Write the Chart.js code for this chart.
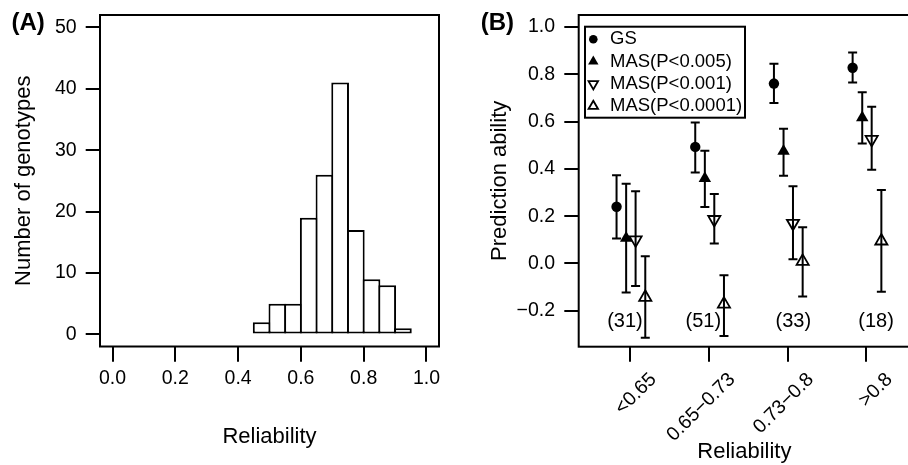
<!DOCTYPE html>
<html><head><meta charset="utf-8">
<script src="https://cdn.jsdelivr.net/npm/chart.js@4.4.1/dist/chart.umd.min.js"></script>
<style>
html,body{margin:0;padding:0;background:#fff;}
#wrap{position:relative;width:908px;height:465px;overflow:hidden;background:#fff;}
#boxA{position:absolute;left:0;top:0;width:450px;height:465px;}
#boxB{position:absolute;left:450px;top:0;width:458px;height:465px;overflow:hidden;}
canvas{display:block;}
</style></head><body>
<div id="wrap">
<div id="boxA"><canvas id="cA" width="450" height="465"></canvas></div>
<div id="boxB"><canvas id="cB" width="470" height="465"></canvas></div>
</div>
<script>
// ---------- Panel A: histogram ----------
const binCentres = [0.475, 0.525, 0.575, 0.625, 0.675, 0.725, 0.775, 0.825, 0.875, 0.925];
const genotypeCounts = [2, 5, 5, 19, 26, 41, 17, 9, 8, 1];
const histXTicks = [0, 0.2, 0.4, 0.6, 0.8, 1.0];
const histXTickLabels = ["0.0", "0.2", "0.4", "0.6", "0.8", "1.0"];
const histYTicks = [0, 10, 20, 30, 40, 50];
const histYTickLabels = ["0", "10", "20", "30", "40", "50"];

// ---------- Panel B: prediction ability ----------
const reliabilityClasses = ["<0.65", "0.65\u22120.73", "0.73\u22120.8", ">0.8"];
const classSizes = ["(31)", "(51)", "(33)", "(18)"];
const seriesNames = ["GS", "MAS(P<0.005)", "MAS(P<0.001)", "MAS(P<0.0001)"];
const gsMean      = [0.240, 0.493, 0.761, 0.828];
const gsLow       = [0.106, 0.385, 0.679, 0.766];
const gsHigh      = [0.373, 0.596, 0.845, 0.892];
const mas005Mean  = [0.107, 0.360, 0.475, 0.617];
const mas005Low   = [-0.123, 0.239, 0.371, 0.508];
const mas005High  = [0.337, 0.477, 0.570, 0.724];
const mas001Mean  = [0.100, 0.186, 0.170, 0.525];
const mas001Low   = [-0.095, 0.085, 0.018, 0.396];
const mas001High  = [0.305, 0.294, 0.327, 0.663];
const mas0001Mean = [-0.143, -0.172, 0.009, 0.095];
const mas0001Low  = [-0.314, -0.307, -0.140, -0.120];
const mas0001High = [0.031, -0.050, 0.153, 0.311];
const predYTicks = [-0.2, 0, 0.2, 0.4, 0.6, 0.8, 1.0];
const predYTickLabels = ["\u22120.2", "0.0", "0.2", "0.4", "0.6", "0.8", "1.0"];
const classSizeLevel = -0.245;

const seriesMeans = [gsMean, mas005Mean, mas001Mean, mas0001Mean];
const seriesLow = [gsLow, mas005Low, mas001Low, mas0001Low];
const seriesHigh = [gsHigh, mas005High, mas001High, mas0001High];

// ---------- layout / style constants ----------
const FONT = '"Liberation Sans", Arial, Helvetica, sans-serif';
Chart.defaults.font.family = FONT;
Chart.defaults.color = '#000';
const TICK_FONT = 19.5;
const TITLE_FONT = 22;
const seriesOffset = [-0.175, -0.053, 0.067, 0.19];
const countLabelOffset = [-0.068, -0.072, 0.071, 0.123];
const seriesStyle = [
  {pointStyle: 'circle',   rotation: 0,   fill: '#000',          border: 0,   radius: 5.2, legendRadius: 4.3},
  {pointStyle: 'triangle', rotation: 0,   fill: '#000',          border: 0,   radius: 7.2, legendRadius: 6},
  {pointStyle: 'triangle', rotation: 180, fill: 'rgba(0,0,0,0)', border: 1.8, radius: 7,   legendRadius: 5.5},
  {pointStyle: 'triangle', rotation: 0,   fill: 'rgba(0,0,0,0)', border: 1.8, radius: 7,   legendRadius: 5.5}
];

function fixWidth(w) {
  return s => { s.width = w; s.paddingLeft = 0; s.paddingRight = 0; s.paddingTop = 0; s.paddingBottom = 0; };
}
function fixHeight(h) {
  return s => { s.height = h; s.paddingLeft = 0; s.paddingRight = 0; s.paddingTop = 0; s.paddingBottom = 0; };
}
function tickGrid(len) {
  return {display: true, drawOnChartArea: false, drawTicks: true, tickLength: len, tickWidth: 2,
          tickColor: '#000', color: '#000', lineWidth: 2, offset: false};
}

const framePlugin = {
  id: 'frame',
  afterDatasetsDraw(chart) {
    const {ctx, chartArea: a} = chart;
    ctx.save();
    ctx.strokeStyle = '#000';
    ctx.lineWidth = 2;
    ctx.strokeRect(a.left, a.top, a.right - a.left, a.bottom - a.top);
    ctx.restore();
  }
};
function panelLabel(text, x, y) {
  return {
    id: 'panelLabel',
    afterDraw(chart) {
      const ctx = chart.ctx;
      ctx.save();
      ctx.fillStyle = '#000';
      ctx.font = 'bold 24px ' + FONT;
      ctx.textAlign = 'left';
      ctx.textBaseline = 'alphabetic';
      ctx.fillText(text, x, y);
      ctx.restore();
    }
  };
}

// ---------- Chart A ----------
new Chart(document.getElementById('cA'), {
  type: 'bar',
  data: {
    datasets: [{
      data: binCentres.map((x, i) => ({x: x, y: genotypeCounts[i]})),
      backgroundColor: '#fff',
      borderColor: '#000',
      borderWidth: 2,
      borderSkipped: false,
      barPercentage: 1.1275,
      categoryPercentage: 1,
      inflateAmount: 0
    }]
  },
  options: {
    responsive: false, animation: false, events: [], devicePixelRatio: 1,
    layout: {padding: {top: 15, right: 11, left: 0, bottom: 0}},
    plugins: {legend: {display: false}, tooltip: {enabled: false}},
    scales: {
      x: {
        type: 'linear', min: -0.04, max: 1.04, offset: false, bounds: 'data',
        afterBuildTicks: s => { s.ticks = histXTicks.map(v => ({value: v})); },
        afterFit: fixHeight(118.5),
        grid: tickGrid(15.3),
        border: {display: false},
        ticks: {callback: (v, i) => histXTickLabels[i], font: {size: TICK_FONT}, padding: 5.4,
                minRotation: 0, maxRotation: 0, autoSkip: false, color: '#000'},
        title: {display: true, text: 'Reliability', font: {size: TITLE_FONT}, padding: {top: 0, bottom: 14.5}, color: '#000'}
      },
      y: {
        type: 'linear', min: -1.96, max: 52, bounds: 'data',
        afterBuildTicks: s => { s.ticks = histYTicks.map(v => ({value: v})); },
        afterFit: fixWidth(100),
        grid: tickGrid(14.3),
        border: {display: false},
        ticks: {callback: (v, i) => histYTickLabels[i], font: {size: TICK_FONT}, padding: 9, autoSkip: false, color: '#000'},
        title: {display: true, text: 'Number of genotypes', font: {size: TITLE_FONT}, padding: {top: 10.5, bottom: 0}, color: '#000'}
      }
    }
  },
  plugins: [framePlugin, panelLabel('(A)', 11.5, 30)]
});

// ---------- Chart B ----------
const errorBarPlugin = {
  id: 'errorBars',
  beforeDatasetsDraw(chart) {
    const {ctx, scales: {x, y}} = chart;
    ctx.save();
    ctx.strokeStyle = '#000';
    ctx.lineWidth = 2;
    chart.data.datasets.forEach((ds, d) => {
      ds.data.forEach((p, i) => {
        const px = x.getPixelForValue(p.x);
        const y1 = y.getPixelForValue(seriesLow[d][i]);
        const y2 = y.getPixelForValue(seriesHigh[d][i]);
        ctx.beginPath();
        ctx.moveTo(px, y1); ctx.lineTo(px, y2);
        ctx.moveTo(px - 4.5, y1); ctx.lineTo(px + 4.5, y1);
        ctx.moveTo(px - 4.5, y2); ctx.lineTo(px + 4.5, y2);
        ctx.stroke();
      });
    });
    ctx.restore();
  }
};
const countLabelPlugin = {
  id: 'countLabels',
  afterDatasetsDraw(chart) {
    const {ctx, scales: {x, y}} = chart;
    ctx.save();
    ctx.fillStyle = '#000';
    ctx.font = '20px ' + FONT;
    ctx.textAlign = 'center';
    ctx.textBaseline = 'middle';
    classSizes.forEach((t, i) => {
      ctx.fillText(t, x.getPixelForValue(i + 1 + countLabelOffset[i]), y.getPixelForValue(classSizeLevel));
    });
    ctx.restore();
  }
};
const legendPlugin = {
  id: 'boxLegend',
  afterDraw(chart) {
    const ctx = chart.ctx;
    const left = 135, top = 26.7, w = 160, h = 91, rowH = 22.3;
    ctx.save();
    ctx.fillStyle = '#fff';
    ctx.fillRect(left, top, w, h);
    ctx.strokeStyle = '#000';
    ctx.lineWidth = 2;
    ctx.strokeRect(left, top, w, h);
    ctx.font = '18.5px ' + FONT;
    ctx.textAlign = 'left';
    ctx.textBaseline = 'middle';
    seriesNames.forEach((name, k) => {
      const st = seriesStyle[k];
      const yc = top + 12.6 + k * rowH;
      ctx.fillStyle = st.fill;
      ctx.strokeStyle = '#000';
      ctx.lineWidth = st.border || 0;
      Chart.helpers.drawPoint(ctx, {pointStyle: st.pointStyle, rotation: st.rotation,
        radius: st.legendRadius, borderWidth: st.border}, 143.3, yc);
      ctx.fillStyle = '#000';
      ctx.fillText(name, 160, yc);
    });
    ctx.restore();
  }
};

new Chart(document.getElementById('cB'), {
  type: 'scatter',
  data: {
    datasets: seriesNames.map((name, d) => ({
      label: name,
      data: reliabilityClasses.map((c, i) => ({x: i + 1 + seriesOffset[d], y: seriesMeans[d][i]})),
      pointStyle: seriesStyle[d].pointStyle,
      rotation: seriesStyle[d].rotation,
      pointRadius: seriesStyle[d].radius,
      pointBackgroundColor: seriesStyle[d].fill,
      pointBorderColor: '#000',
      pointBorderWidth: seriesStyle[d].border,
      showLine: false
    }))
  },
  options: {
    responsive: false, animation: false, events: [], devicePixelRatio: 1,
    layout: {padding: {top: 15, right: 10, left: 0, bottom: 0}},
    plugins: {legend: {display: false}, tooltip: {enabled: false}},
    scales: {
      x: {
        type: 'linear', min: 0.344, max: 4.554, offset: false, bounds: 'data',
        afterBuildTicks: s => { s.ticks = reliabilityClasses.map((c, i) => ({value: i + 1})); },
        afterFit: fixHeight(118.3),
        grid: tickGrid(15),
        border: {display: false},
        ticks: {callback: (v, i) => reliabilityClasses[i], font: {size: TICK_FONT}, padding: 6.5, labelOffset: 23,
                minRotation: 45, maxRotation: 45, autoSkip: false, color: '#000'},
        title: {display: true, text: 'Reliability', font: {size: TITLE_FONT}, padding: {top: 0, bottom: 0.2}, color: '#000'}
      },
      y: {
        type: 'linear', min: -0.352, max: 1.051, bounds: 'data',
        afterBuildTicks: s => { s.ticks = predYTicks.map(v => ({value: v})); },
        afterFit: fixWidth(128.7),
        grid: tickGrid(14.4),
        border: {display: false},
        ticks: {callback: (v, i) => predYTickLabels[i], font: {size: TICK_FONT}, padding: 9.3, autoSkip: false, color: '#000'},
        title: {display: true, text: 'Prediction ability', font: {size: TITLE_FONT}, padding: {top: 37, bottom: 0}, color: '#000'}
      }
    }
  },
  plugins: [errorBarPlugin, framePlugin, countLabelPlugin, legendPlugin, panelLabel('(B)', 30.7, 30)]
});
</script>
</body></html>
